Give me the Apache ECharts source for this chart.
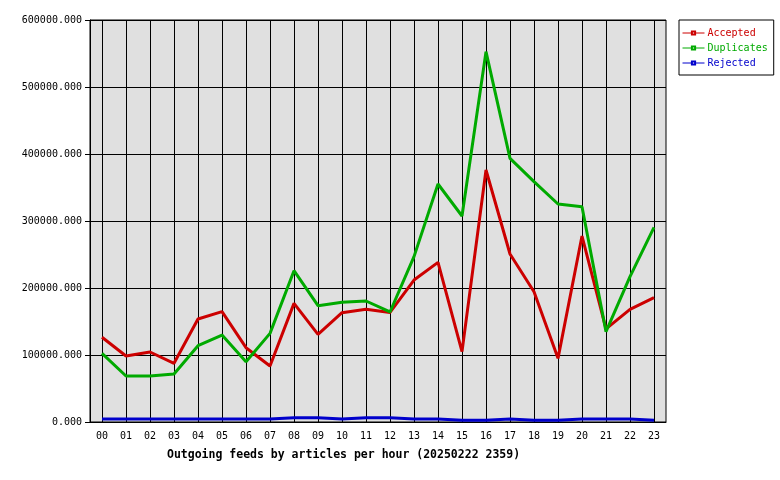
<!DOCTYPE html>
<html>
<head>
<meta charset="utf-8">
<script src="https://cdn.jsdelivr.net/npm/echarts@6/dist/echarts.min.js"></script>
<style>html,body{margin:0;padding:0;background:#fff}#c{width:780px;height:480px}</style>
</head>
<body>
<div id="c"></div>
<script>
const hours = ['00','01','02','03','04','05','06','07','08','09','10','11','12','13','14','15','16','17','18','19','20','21','22','23'];
const accepted = [126500, 98500, 104500, 87600, 153700, 164700, 110900, 83600, 177100, 130800, 163200, 168200, 163500, 211900, 238300, 105000, 376100, 250700, 194500, 95000, 277600, 139000, 168200, 185600];
const duplicates = [102500, 68700, 68700, 71600, 113900, 129800, 90000, 132300, 225800, 173600, 178600, 180600, 164200, 246800, 355200, 307500, 552700, 393500, 358700, 325400, 321400, 134800, 216900, 290600];
const rejected = [4500, 4500, 4500, 4500, 4500, 4500, 4500, 4500, 6500, 6500, 4500, 6500, 6500, 4500, 4500, 2500, 2500, 4500, 2500, 2500, 4500, 4500, 4500, 2500];
const yTicks = [0, 100000, 200000, 300000, 400000, 500000, 600000];
const titleText = 'Outgoing feeds by articles per hour (20250222 2359)';

const mono = '"DejaVu Sans Mono", "Liberation Mono", monospace';
const chart = echarts.init(document.getElementById('c'), null, {renderer: 'canvas'});
function mk(name, data, color) {
  return {
    name: name, type: 'line', data: data,
    symbol: 'emptyRect', symbolSize: 4, showSymbol: false,
    lineStyle: {color: color, width: 3},
    itemStyle: {color: color},
    animation: false, silent: true
  };
}
chart.setOption({
  animation: false,
  backgroundColor: '#ffffff',
  title: {
    text: titleText, left: 162, top: 444,
    textStyle: {fontFamily: mono, fontSize: 11.5, fontWeight: 'bold', color: '#000'}
  },
  legend: {
    orient: 'vertical', left: 679, top: 20,
    padding: [7, 6, 6, 3], itemGap: 3, itemWidth: 22, itemHeight: 4,
    borderColor: '#000', borderWidth: 1, backgroundColor: '#fff',
    data: [
      {name: 'Accepted', textStyle: {color: '#cc0000'}},
      {name: 'Duplicates', textStyle: {color: '#00aa00'}},
      {name: 'Rejected', textStyle: {color: '#0000cc'}}
    ],
    textStyle: {fontFamily: mono, fontSize: 10, lineHeight: 12, padding: [0, 0, 0, -2]},
    itemStyle: {borderWidth: 1},
    lineStyle: {width: 1}
  },
  grid: {
    left: 90, right: 114, top: 20, bottom: 58, show: true,
    backgroundColor: '#e0e0e0', borderColor: '#000', borderWidth: 1
  },
  xAxis: {
    type: 'category', data: hours, boundaryGap: true,
    axisLine: {lineStyle: {color: '#000', width: 1}},
    axisTick: {alignWithLabel: true, length: 5, lineStyle: {color: '#000'}},
    splitLine: {show: true, alignWithLabel: true, lineStyle: {color: '#000', width: 1}},
    axisLabel: {fontFamily: mono, fontSize: 10, color: '#000', margin: 9, interval: 0}
  },
  yAxis: {
    type: 'value', min: 0, max: 600000, interval: 100000,
    axisLine: {show: true, lineStyle: {color: '#000', width: 1}},
    axisTick: {show: true, length: 5, lineStyle: {color: '#000'}},
    splitLine: {show: true, lineStyle: {color: '#000', width: 1}},
    axisLabel: {fontFamily: mono, fontSize: 10, color: '#000', margin: 8,
      formatter: v => yTicks.includes(v) ? v.toFixed(3) : ''}
  },
  series: [
    mk('Accepted', accepted, '#cc0000'),
    mk('Duplicates', duplicates, '#00aa00'),
    mk('Rejected', rejected, '#0000cc')
  ]
});
</script>
</body>
</html>
